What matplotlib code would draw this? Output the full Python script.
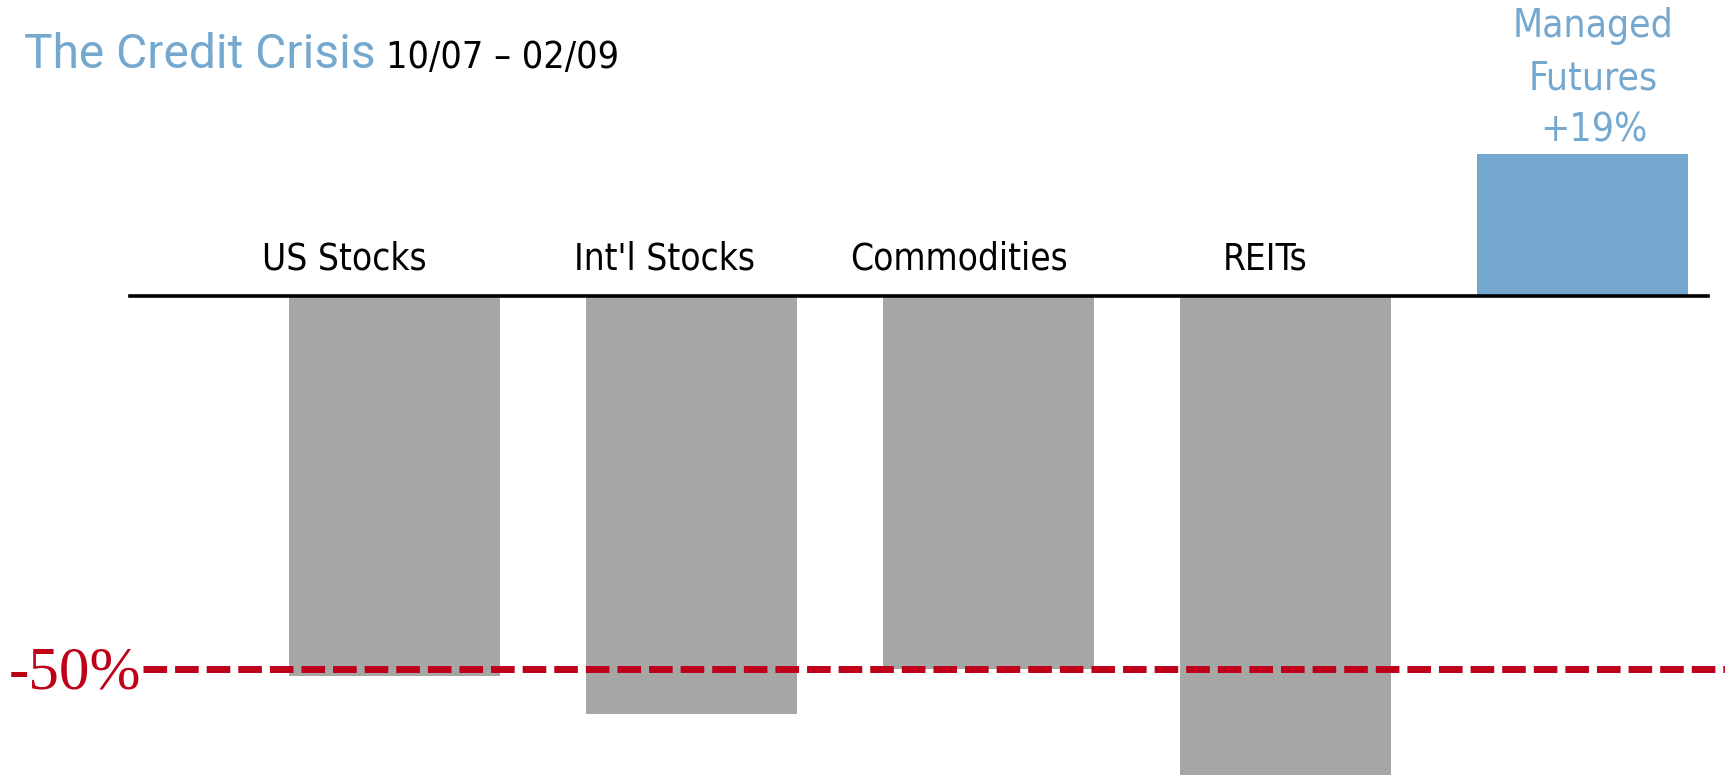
import matplotlib
matplotlib.use("Agg")
import matplotlib.pyplot as plt

# ---- data ----
categories = ["US Stocks", "Int'l Stocks", "Commodities", "REITs", "Managed Futures"]
returns = [-51, -56, -50, -68, 19]
bar_colors = ["#A6A6A6", "#A6A6A6", "#A6A6A6", "#A6A6A6", "#75A8CF"]
label_offsets = [-0.168, -0.09, -0.098, -0.07, 0.037]
reference_level = -50
reference_label = "-50%"
title_main = "The Credit Crisis"
title_period = "10/07 \u2013 02/09"
mf_label = "Managed\nFutures\n+19%"

BLUE = "#75A8CF"
RED = "#BE0019"
NARROW = dict(family=["DejaVu Sans"], fontstretch="condensed")

fig = plt.figure(figsize=(17.25, 7.75), dpi=100)
ax = fig.add_axes([0, 0, 1, 1])
ax.set_axis_off()

W, H = 1725, 775
x0_px, step_px = 394.5, 297.0
zero_px, per_pct = 296.0, 7.46
ax.set_xlim(-x0_px / step_px, (W - x0_px) / step_px)
ax.set_ylim(-(H - zero_px) / per_pct, zero_px / per_pct)

xs = list(range(len(categories)))
ax.bar(xs, returns, width=0.71, color=bar_colors, zorder=2)

# baseline
ax.axhline(0, xmin=130 / W, xmax=1708 / W, color="black", lw=2.6, zorder=3)

# -50% reference line
ax.axhline(reference_level, xmin=143 / W, xmax=1.0, color=RED, lw=5,
           dashes=(3.4, 1.15), zorder=4)
ax.text(141 / W, reference_level - 0.6, reference_label, transform=ax.get_yaxis_transform(),
        ha="right", va="center", color=RED, fontsize=44,
        family=["Liberation Serif", "DejaVu Serif"])

# category labels
for i, (cat, val) in enumerate(zip(categories, returns)):
    if val < 0:
        ax.text(i + label_offsets[i], 3.6, cat, ha="center", va="baseline",
                fontsize=26.5, color="black", **NARROW)
    else:
        ax.text(i + label_offsets[i], val + 0.6, mf_label, ha="center", va="bottom",
                fontsize=28, color=BLUE, linespacing=1.48, **NARROW)

# title
fig.text(24 / W, 1 - 68 / H, title_main, ha="left", va="baseline",
         fontsize=34.5, family=["Roboto", "DejaVu Sans"], color=BLUE)
fig.text(386 / W, 1 - 68 / H, title_period, ha="left", va="baseline",
         fontsize=27, color="black", **NARROW)

fig.savefig("out.png", dpi=100)
